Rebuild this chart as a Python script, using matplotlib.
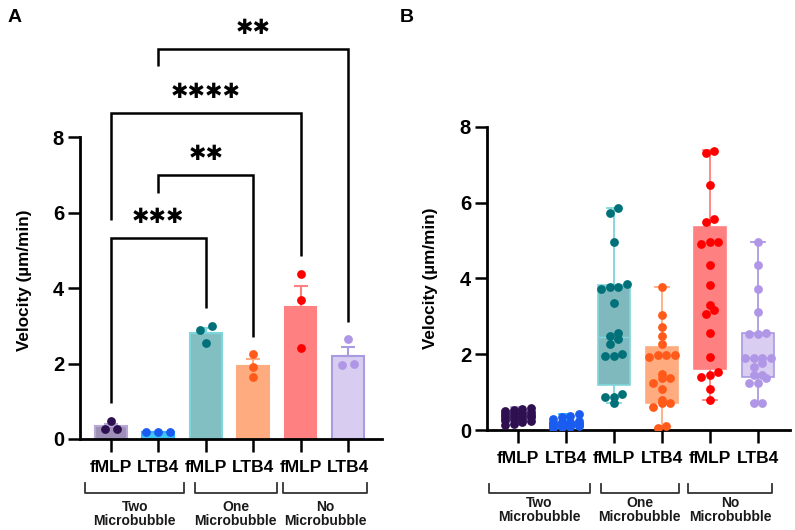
import numpy as np
import matplotlib
matplotlib.use('Agg')
import matplotlib.pyplot as plt

plt.rcParams['font.family'] = ['Liberation Sans', 'DejaVu Sans']

# --- data ---
conditions = ['fMLP', 'LTB4', 'fMLP', 'LTB4', 'fMLP', 'LTB4']
groups = ['Two\nMicrobubble', 'One\nMicrobubble', 'No\nMicrobubble']

# panel A: three repeats per condition (mean +/- SEM bars)
a_two_fmlp = [0.48, 0.27, 0.27]
a_two_ltb4 = [0.18, 0.19, 0.18]
a_one_fmlp = [3.00, 2.89, 2.55]
a_one_ltb4 = [2.25, 1.90, 1.63]
a_no_fmlp = [4.37, 3.69, 2.40]
a_no_ltb4 = [2.65, 2.00, 1.96]

# significance brackets: (left cond, right cond, height, left leg end, right leg end, label)
sig_left = [0, 1, 0, 1]
sig_right = [2, 3, 4, 5]
sig_height = [5.32, 6.99, 8.64, 10.33]
sig_left_end = [0.95, 6.52, 5.80, 9.88]
sig_right_end = [3.47, 2.70, 4.85, 3.10]
sig_labels = ['***', '**', '****', '**']

# panel B: single cells
b_two_fmlp = [0.58, 0.55, 0.52, 0.50, 0.48, 0.46, 0.45, 0.43, 0.40, 0.38,
              0.36, 0.35, 0.33, 0.30, 0.28, 0.26, 0.24, 0.20, 0.17, 0.14]
b_two_ltb4 = [0.42, 0.38, 0.33, 0.28, 0.25, 0.22, 0.20, 0.19, 0.18, 0.17,
              0.16, 0.15, 0.14, 0.13, 0.12, 0.11, 0.10, 0.08, 0.07, 0.05]
b_one_fmlp = [5.85, 5.73, 4.97, 3.77, 3.72, 3.85, 3.77, 3.34, 2.55, 2.49,
              2.39, 2.27, 2.00, 1.96, 1.96, 0.95, 0.86, 0.86, 0.70]
b_one_ltb4 = [3.76, 3.03, 2.71, 2.49, 2.27, 1.93, 1.97, 1.98, 1.97, 1.48,
              1.36, 1.36, 1.25, 1.08, 0.79, 0.72, 0.72, 0.61, 0.11, 0.04]
b_no_fmlp = [7.37, 7.30, 6.46, 5.57, 5.50, 4.97, 4.97, 4.91, 4.35, 3.83,
             3.30, 3.06, 3.17, 2.57, 1.92, 1.52, 1.45, 1.39, 1.08, 0.79]
b_no_ltb4 = [4.97, 4.35, 3.71, 3.12, 2.53, 2.53, 2.55, 1.91, 1.91, 1.91,
             1.91, 1.76, 1.67, 1.45, 1.45, 1.36, 1.25, 1.25, 0.72, 0.72]

# box statistics
b_q1 = [0.20, 0.10, 1.19, 0.72, 1.61, 1.41]
b_q3 = [0.50, 0.20, 3.83, 2.20, 5.35, 2.55]
b_med = [0.36, 0.15, 2.45, 1.50, 3.20, 1.91]
b_lo = [0.12, 0.05, 0.70, 0.04, 0.79, 0.72]
b_hi = [0.60, 0.42, 5.87, 3.78, 7.40, 4.97]

# colours
face_cols = ['#9d8fb6', '#3fc8f4', '#82bfc3', '#ffab80', '#ff8080', '#d8cdf0']
edge_cols = ['#b8a8d8', '#33b5ff', '#7fd6da', '#ffab80', '#ff8080', '#a99be0']
dot_cols = ['#2e0f50', '#1a5cf0', '#007079', '#ff5a1a', '#ff0000', '#b096e6']
b_face_cols = ['#c2b3e0', '#55c8f5', '#7fb9be', '#ffab80', '#ff8080', '#d9cdf2']


def swarm_x(vals, center, px_per_y, px_per_x, step=8.5, gap=6, maxrow=4):
    vals = np.asarray(vals, float)
    order = np.argsort(vals)
    xs = np.zeros(len(vals))
    rows, cur = [], []
    for i in order:
        if cur and ((vals[i] - vals[cur[0]]) * px_per_y > gap or len(cur) >= maxrow):
            rows.append(cur)
            cur = []
        cur.append(i)
    if cur:
        rows.append(cur)
    for row in rows:
        n = len(row)
        offs = (np.arange(n) - (n - 1) / 2) * step / px_per_x
        for k, i in enumerate(row):
            xs[i] = center + offs[k]
    return xs


def style_axes(ax):
    for s in ['top', 'right']:
        ax.spines[s].set_visible(False)
    ax.spines['left'].set_linewidth(2)
    ax.spines['bottom'].set_linewidth(2)
    ax.spines['left'].set_bounds(0, 8)
    ax.set_yticks([0, 2, 4, 6, 8])
    ax.set_yticklabels(['0', '2', '4', '6', '8'], fontsize=14.5, fontweight='bold')
    ax.tick_params(axis='y', length=8.5, width=1.8, pad=3)
    ax.tick_params(axis='x', length=9, width=1.8, pad=6)
    ax.set_xticks(range(len(conditions)))
    ax.set_xticklabels(conditions, fontsize=12.5, fontweight='bold')


def group_brackets(ax, spans, y_line, y_tick, y_text):
    for (x0, x1), name in zip(spans, groups):
        ax.plot([x0, x0, x1, x1], [y_tick, y_line, y_line, y_tick], color='#333333',
                lw=1.3, clip_on=False)
        ax.text((x0 + x1) / 2, y_text, name, ha='center', va='center', fontsize=10,
                fontweight='bold', color='#1a1a1a', linespacing=1.0, clip_on=False)


fig = plt.figure(figsize=(7.95, 5.30), dpi=100)

# ---------------- panel A ----------------
axA = fig.add_axes([80 / 795, 91 / 530, 302 / 795, 439 / 530])
a_sets = [a_two_fmlp, a_two_ltb4, a_one_fmlp, a_one_ltb4, a_no_fmlp, a_no_ltb4]
a_means = [np.mean(v) for v in a_sets]
a_sem = [np.std(v, ddof=1) / np.sqrt(len(v)) for v in a_sets]
xpos = np.arange(len(conditions))
axA.bar(xpos, a_means, width=0.67, color=face_cols, edgecolor=edge_cols, linewidth=1.5, zorder=2)
for i in range(len(a_sets)):
    axA.errorbar(xpos[i], a_means[i], yerr=[[0], [a_sem[i]]], color=edge_cols[i],
                 capsize=5, capthick=1.5, elinewidth=1.5, zorder=2)
    xs = swarm_x(a_sets[i], xpos[i], 37.75, 47.4, step=12)
    axA.scatter(xs, a_sets[i], s=40, color=dot_cols[i], zorder=3, linewidths=0)

for l, r, h, le, re, lab in zip(sig_left, sig_right, sig_height, sig_left_end,
                                sig_right_end, sig_labels):
    axA.plot([l, l, r, r], [le, h, h, re], color='black', lw=1.8, clip_on=False,
             solid_capstyle='butt', solid_joinstyle='miter')
    axA.text((l + r) / 2, h + 0.55, '\u2731' * len(lab), ha='center', va='center',
             fontsize=15, family='DejaVu Sans', clip_on=False)

axA.set_xlim(-0.654, 5.72)
axA.set_ylim(0, 11.63)
style_axes(axA)
axA.set_ylabel('Velocity (\u00b5m/min)', fontsize=12.3, fontweight='bold')
axA.yaxis.set_label_coords(-0.159, 4.2 / 11.63)
group_brackets(axA, [(-0.55, 1.55), (1.77, 3.5), (3.63, 5.4)], -1.43, -1.17, -1.98)

# ---------------- panel B ----------------
axB = fig.add_axes([487 / 795, 100 / 530, 303 / 795, 315 / 530])
b_sets = [b_two_fmlp, b_two_ltb4, b_one_fmlp, b_one_ltb4, b_no_fmlp, b_no_ltb4]
stats = []
for i in range(len(b_sets)):
    stats.append({'med': b_med[i], 'q1': b_q1[i], 'q3': b_q3[i],
                  'whislo': b_lo[i], 'whishi': b_hi[i], 'fliers': []})
bp = axB.bxp(stats, positions=xpos, widths=0.66, patch_artist=True, capwidths=0.3,
             showfliers=False)
for i in range(len(b_sets)):
    bp['boxes'][i].set(facecolor=b_face_cols[i], edgecolor=edge_cols[i], linewidth=1.2)
    bp['medians'][i].set(color=edge_cols[i], linewidth=1.0)
    for w in bp['whiskers'][2 * i:2 * i + 2]:
        w.set(color=edge_cols[i], linewidth=1.3)
    for c in bp['caps'][2 * i:2 * i + 2]:
        c.set(color=edge_cols[i], linewidth=1.3)
    xs = swarm_x(b_sets[i], xpos[i], 37.9, 48.0)
    axB.scatter(xs, b_sets[i], s=40, color=dot_cols[i], zorder=3, linewidths=0)

axB.set_xlim(-0.646, 5.667)
axB.set_ylim(0, 315 / 37.9)
style_axes(axB)
axB.set_ylabel('Velocity (\u00b5m/min)', fontsize=12.3, fontweight='bold')
axB.yaxis.set_label_coords(-0.162, 4.0 / (315 / 37.9))
group_brackets(axB, [(-0.60, 1.5), (1.72, 3.35), (3.54, 5.29)], -1.66, -1.42, -2.12)

fig.text(8 / 795, 1 - 18 / 530, 'A', fontsize=14, fontweight='bold', va='center')
fig.text(400 / 795, 1 - 18 / 530, 'B', fontsize=14, fontweight='bold', va='center')

fig.savefig('out.png', dpi=100)
